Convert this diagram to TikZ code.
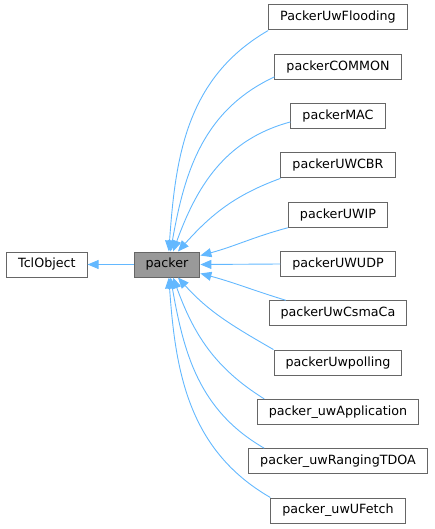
\documentclass[tikz,border=0pt]{standalone}
\usepackage{fontspec}
\setmainfont{DejaVu Sans}
\usepackage{xcolor}
\usepackage{tikz}
\usetikzlibrary{positioning}
\usetikzlibrary{arrows.meta}

\definecolor{edgeblue}{HTML}{63B8FF}
\definecolor{boxgray}{HTML}{666666}
\definecolor{basefill}{HTML}{999999}

\begin{document}
\begin{tikzpicture}[x=1pt, y=1pt]

        \def\d{23.3pt}

        % Looks of the class boxes and of the
        % inheritance arrows
        \tikzset{
            cls/.style={draw=boxgray, line width=1pt, fill=white, minimum height=25pt,
                inner xsep=11.5pt, inner ysep=0pt, text height=9.6pt, text depth=2.8pt,
                font=\fontsize{12.7}{15}\selectfont},
            base/.style={cls, fill=basefill},
            edge/.style={draw=edgeblue, line width=0.9pt, {Triangle[length=11pt, width=9pt]}-}
        }

        \useasboundingbox (0, 0) rectangle (435, -529);

        % Scope used for the boxes, the derived classes in one column
        \begin{scope}
            \node[base] (P) at (167, -264.5) {packer};
            \node[cls] (T) [left=46pt of P] {TclObject};

            \node[cls] (Flood) at (338, -17.5) {PackerUwFlooding};
            \node[cls] (Common) [below=\d of Flood] {packerCOMMON};
            \node[cls] (Mac) [below=\d of Common] {packerMAC};
            \node[cls] (Cbr) [below=\d of Mac] {packerUWCBR};
            \node[cls] (Ip) [below=\d of Cbr] {packerUWIP};
            \node[cls] (Udp) [below=\d of Ip] {packerUWUDP};
            \node[cls] (Csma) [below=\d of Udp] {packerUwCsmaCa};
            \node[cls] (Poll) [below=\d of Csma] {packerUwpolling};
            \node[cls] (App) [below=\d of Poll] {packer\_uwApplication};
            \node[cls] (Rang) [below=\d of App] {packer\_uwRangingTDOA};
            \node[cls] (Fetch) [below=\d of Rang] {packer\_uwUFetch};
        \end{scope}

        \begin{scope}
            \draw[edge] (T) -- (P);

            \draw[edge] (P.82) to[out=86, in=210] (Flood.south west);
            \draw[edge] (P.75) to[out=80, in=205] (Common.189);
            \draw[edge] (P.65) to[out=70, in=195] (Mac.187);
            \draw[edge] (P.50) to[out=48, in=200] (Cbr.south west);
            \draw[edge] (P.15) to[out=15, in=195] (Ip.south west);
            \draw[edge] (P.east) -- (Udp.west);
            \draw[edge] (P.-15) to[out=-15, in=163] (Csma.166);
            \draw[edge] (P.-50) to[out=-48, in=150] (Poll.north west);
            \draw[edge] (P.-65) to[out=-70, in=148] (App.170);
            \draw[edge] (P.-75) to[out=-80, in=150] (Rang.170);
            \draw[edge] (P.-82) to[out=-86, in=150] (Fetch.north west);
        \end{scope} 

        \end{tikzpicture}
\end{document}
